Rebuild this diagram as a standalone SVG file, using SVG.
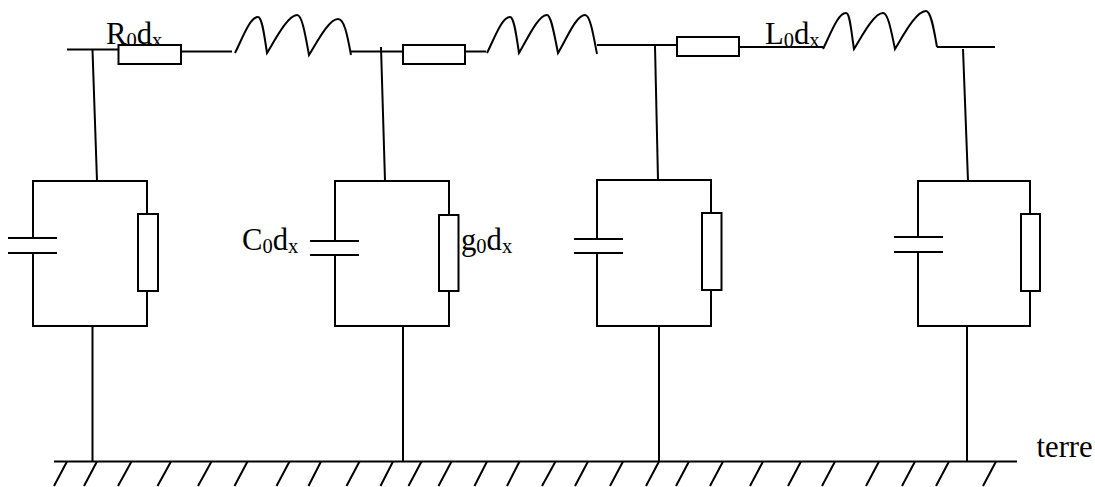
<svg xmlns="http://www.w3.org/2000/svg" width="1095" height="487" viewBox="0 0 1095 487">
<style>
.w{fill:none;stroke:#000;stroke-width:2}
.r{fill:#fff;stroke:#000;stroke-width:2}
text{font-family:"Liberation Serif","Times New Roman",serif;font-size:30.700px;fill:#000}
.s{font-size:20.500px}
</style>
<rect width="1095" height="487" fill="#fff"/>
<g id="labels">
<text id="t-r" x="106" y="43.500">R<tspan class="s" dy="3">0</tspan><tspan dy="-3">d</tspan><tspan class="s" dy="3">x</tspan></text>
<text id="t-l" x="765" y="43.500">L<tspan class="s" dy="3">0</tspan><tspan dy="-3">d</tspan><tspan class="s" dy="3">x</tspan></text>
<text id="t-c" x="242" y="250">C<tspan class="s" dy="3">0</tspan><tspan dy="-3">d</tspan><tspan class="s" dy="3">x</tspan></text>
<text id="t-g" x="461" y="250">g<tspan class="s" dy="3">0</tspan><tspan dy="-3">d</tspan><tspan class="s" dy="3">x</tspan></text>
<text id="t-t" x="1036.500" y="457">terre</text>
</g>
<g id="connectors">
<path class="w" d="M67 49.500H118M181 51.500H232M351 51.500H403M465 51.500H486M597 45H677M739 47H823M937 47H995"/>
<path class="w" d="M92.500 50L97 181M381 47L385 181M655 46L658 180M963 49L968 181"/>
<path class="w" d="M92.500 326V461.500M403 326V461.500M659 326V461.500M967 326V461.500"/>
</g>
<g id="ground">
<path class="w" d="M54 461.500H1017"/>
<path class="w" d="M67 461.500L54 486M97 461.500L84 486M131.500 461.500L118 486M171 461.500L157.500 486M211.500 461.500L198 486M247.500 461.500L234.500 486M289.500 461.500L276.500 486M321 461.500L308.500 486M359.500 461.500L346.500 486M393 461.500L380.500 486M421.500 461.500L408.500 486M451.500 461.500L438.500 486M487 461.500L474.500 486M519.500 461.500L507 486M555.500 461.500L542 486M588 461.500L575 486M623 461.500L610 486M659 461.500L646 486M689 461.500L676 486M723 461.500L710 486M763 461.500L750 486M801 461.500L788 486M835 461.500L822 486M879 461.500L866 486M915 461.500L902 486M949 461.500L936 486M996 461.500L983 486"/>
</g>
<g id="L1"><path class="w" d="M235 53C243 37 250 17 258 17C262 17 264 33 267 53C275 40 288 15 297 15C302 15 305 33 309 55C317 42 329 19 338 19C344 19 347 33 351 55"/></g>
<g id="L2"><path class="w" d="M487 53C495 37 502 17 510 17C514 17 516 33 519 53C527 40 538 15 547 15C551 15 554 33 558 53C566 40 576 15 585 15C590 15 593 33 597 54"/></g>
<g id="L3"><path class="w" d="M823 49C831 33 838 13 846 13C850 13 851 30 854 49C862 36 874 13 883 13C888 13 891 30 895 49C903 36 916 11 926 11C931 11 934 30 937 47"/></g>
<g id="R1"><rect class="r" x="118.500" y="45" width="62.500" height="19"/></g>
<g id="R2"><rect class="r" x="403" y="45" width="62" height="19"/></g>
<g id="R3"><rect class="r" x="677" y="37" width="62" height="19"/></g>
<g id="cell1"><path class="w" d="M33 237V181H147V214M147 291V326H33V253M8 238H57M8 253H57"/><rect class="r" x="138" y="214" width="20" height="77"/></g>
<g id="cell2"><path class="w" d="M335 241V181H449V215M449 291V326H335V255M310 241H359M310 255H359"/><rect class="r" x="439" y="215" width="19.500" height="76"/></g>
<g id="cell3"><path class="w" d="M597 239V180H711V213M711 290V326H597V253M574 239H623M574 253H623"/><rect class="r" x="702" y="213" width="19.500" height="77"/></g>
<g id="cell4"><path class="w" d="M918 237V181H1030V214M1030 291V326H918V252M894 237H943M894 252H943"/><rect class="r" x="1021" y="214" width="19" height="77"/></g>
</svg>
